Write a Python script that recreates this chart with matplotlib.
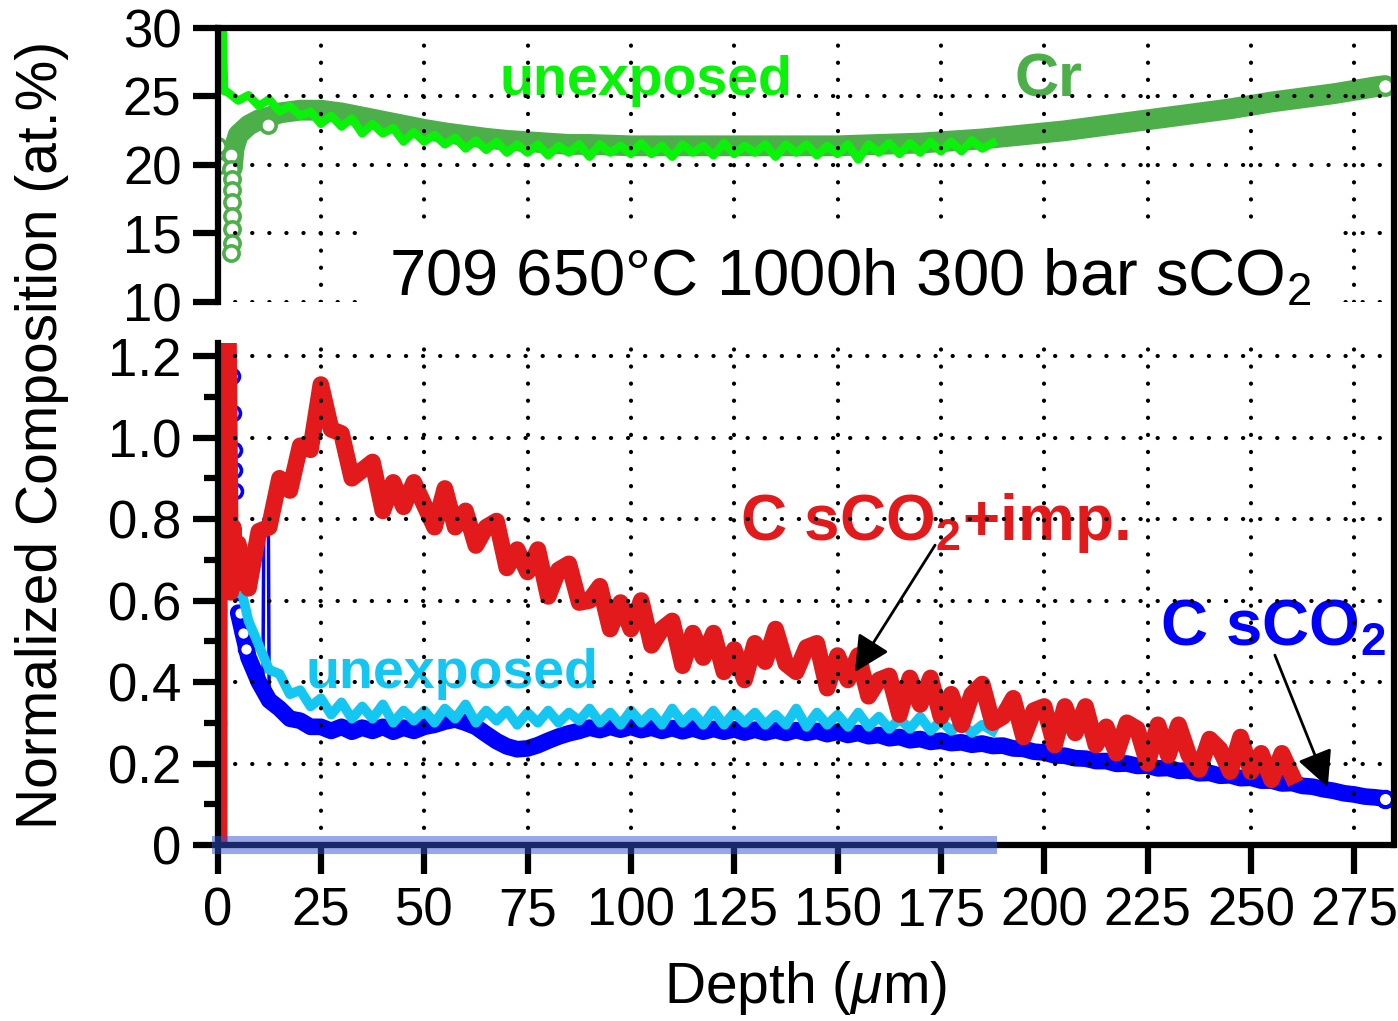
import numpy as np
import matplotlib.pyplot as plt
from matplotlib.lines import Line2D

plt.rcParams['font.family'] = ['Liberation Sans', 'DejaVu Sans']
plt.rcParams['mathtext.fontset'] = 'custom'
plt.rcParams['mathtext.rm'] = 'Liberation Sans'
plt.rcParams['mathtext.it'] = 'Liberation Sans:italic'
plt.rcParams['mathtext.bf'] = 'Liberation Sans:bold'
plt.rcParams['lines.dash_capstyle'] = 'round'

# ---------------- data ----------------
# top panel, Cr at.%
# sCO2 exposed: open rings near the surface, then a thick band
cr_ring_x = [0.1, 0.3, 3.3, 3.3, 3.4, 3.4, 3.5, 3.5, 3.4, 3.4, 3.3, 12.2]
cr_ring_y = [21.4, 20.0, 20.7, 19.7, 19.0, 18.2, 17.3, 16.3, 15.3, 14.3, 13.6, 22.9]
cr_x = [3.6, 4.0, 5.0, 7.5, 10, 12.5, 15, 20, 25, 30, 35, 40, 45, 50, 55, 60, 65, 70,
        75, 80, 85, 90, 95, 100, 110, 120, 130, 140, 150, 160, 170, 180, 185, 190, 195,
        200, 205, 210, 215, 220, 225, 230, 235, 240, 245, 250, 255, 260, 265, 270, 275,
        280, 282.5]
cr_y = [19.8, 21.2, 22.2, 22.9, 23.3, 23.5, 23.8, 24.0, 24.0, 23.8, 23.5, 23.2, 22.9,
        22.6, 22.35, 22.15, 21.95, 21.8, 21.7, 21.6, 21.5, 21.5, 21.45, 21.4, 21.4, 21.4,
        21.4, 21.4, 21.4, 21.5, 21.6, 21.8, 21.9, 22.05, 22.2, 22.35, 22.5, 22.7, 22.9,
        23.1, 23.3, 23.5, 23.7, 23.9, 24.1, 24.35, 24.6, 24.8, 25.0, 25.2, 25.45, 25.7, 25.8]

# unexposed Cr (noisy)
cr_unexp_head_x = [1.2, 1.6]
cr_unexp_head_y = [31.0, 25.4]
cr_unexp_y = [25.3, 24.7, 25.1, 24.3, 24.8, 23.9, 24.3, 23.6, 23.9, 23.0,
              23.6, 22.8, 23.4, 22.3, 23.0, 22.3, 22.7, 21.7, 22.4, 21.7,
              22.2, 21.5, 22.0, 21.2, 21.8, 21.1, 21.7, 20.9, 21.5, 20.9,
              21.5, 20.7, 21.4, 20.9, 21.5, 20.6, 21.5, 20.9, 21.4, 20.8,
              21.6, 20.8, 21.4, 20.6, 21.5, 20.9, 21.4, 20.7, 21.6, 20.8,
              21.4, 20.9, 21.5, 20.6, 21.5, 20.9, 21.5, 20.7, 21.4, 20.8,
              21.5, 20.4, 21.5, 20.9, 21.6, 20.8, 21.6, 20.9, 21.7, 21.0,
              21.7, 21.0, 21.8, 21.2, 21.6]
cr_unexp_x = 2.5 + 2.5 * np.arange(len(cr_unexp_y))

# bottom panel, normalized C
# C sCO2 + impurities
c_imp_head_x = [0.4, 0.5, 2.6, 3.2, 3.8, 4.3]
c_imp_head_y = [0.0, 1.3, 1.3, 0.62, 0.78, 0.64]
c_imp_y = [0.74, 0.63, 0.77, 0.78, 0.90, 0.87, 0.98, 0.97, 1.13, 1.02,
           1.01, 0.90, 0.92, 0.94, 0.82, 0.89, 0.83, 0.89, 0.835, 0.78,
           0.875, 0.78, 0.82, 0.735, 0.78, 0.795, 0.68, 0.725, 0.67, 0.725,
           0.61, 0.675, 0.69, 0.595, 0.60, 0.635, 0.53, 0.595, 0.53, 0.60,
           0.49, 0.53, 0.55, 0.44, 0.52, 0.46, 0.52, 0.425, 0.48, 0.405,
           0.495, 0.45, 0.53, 0.445, 0.425, 0.485, 0.495, 0.385, 0.465, 0.405,
           0.465, 0.365, 0.405, 0.415, 0.32, 0.41, 0.345, 0.41, 0.315, 0.37,
           0.295, 0.37, 0.395, 0.30, 0.315, 0.36, 0.265, 0.33, 0.34, 0.245,
           0.34, 0.275, 0.34, 0.245, 0.29, 0.225, 0.30, 0.285, 0.20, 0.295,
           0.22, 0.295, 0.22, 0.185, 0.26, 0.235, 0.18, 0.265, 0.18, 0.225,
           0.16, 0.225, 0.17]
c_imp_x = 5 + 2.5 * np.arange(len(c_imp_y))

# C sCO2
c_ring_x = [0.2, 0.2, 0.3, 0.5, 3.6, 3.8, 4.0, 4.1, 4.3, 4.6, 5.0, 5.5, 6.2, 7.0]
c_ring_y = [0.30, 0.78, 0.80, 1.03, 1.15, 1.06, 0.97, 0.92, 0.87, 0.70, 0.62, 0.57, 0.52, 0.48]
c_thin_x = [3.0, 3.0, np.nan, 11.0, 11.2, 12.3, 12.5]
c_thin_y = [1.3, 0.62, np.nan, 0.40, 0.80, 0.80, 0.36]
c_y = [0.57, 0.46, 0.40, 0.355, 0.335, 0.31, 0.305, 0.29, 0.29, 0.28,
       0.29, 0.278, 0.288, 0.28, 0.29, 0.278, 0.288, 0.28, 0.29, 0.295,
       0.303, 0.308, 0.30, 0.29, 0.272, 0.255, 0.242, 0.235, 0.237, 0.245,
       0.256, 0.266, 0.274, 0.28, 0.288, 0.282, 0.29, 0.283, 0.29, 0.282,
       0.288, 0.28, 0.287, 0.279, 0.286, 0.278, 0.285, 0.278, 0.284, 0.276,
       0.283, 0.276, 0.282, 0.275, 0.282, 0.275, 0.28, 0.272, 0.278, 0.27,
       0.275, 0.267, 0.27, 0.262, 0.265, 0.257, 0.26, 0.253, 0.256, 0.25,
       0.252, 0.246, 0.249, 0.243, 0.244, 0.237, 0.236, 0.229, 0.227, 0.22,
       0.219, 0.213, 0.212, 0.206, 0.206, 0.199, 0.2, 0.194, 0.195, 0.188,
       0.189, 0.182, 0.183, 0.176, 0.177, 0.17, 0.171, 0.164, 0.165, 0.158,
       0.158, 0.151, 0.152, 0.145, 0.143, 0.137, 0.133, 0.127, 0.124, 0.119,
       0.117, 0.114]
c_x = 5 + 2.5 * np.arange(len(c_y))

# C unexposed
c_unexp_head_x = [3.0, 3.6, 4.2]
c_unexp_head_y = [0.88, 0.78, 0.72]
c_unexp_y = [0.66, 0.55, 0.49, 0.43, 0.42, 0.37, 0.38, 0.34, 0.36, 0.32,
             0.35, 0.31, 0.34, 0.31, 0.345, 0.30, 0.33, 0.305, 0.33, 0.30,
             0.335, 0.31, 0.345, 0.30, 0.33, 0.305, 0.33, 0.295, 0.325, 0.30,
             0.33, 0.30, 0.325, 0.305, 0.335, 0.30, 0.325, 0.295, 0.33, 0.30,
             0.325, 0.295, 0.335, 0.30, 0.325, 0.295, 0.33, 0.295, 0.325, 0.30,
             0.325, 0.295, 0.32, 0.295, 0.335, 0.29, 0.325, 0.295, 0.32, 0.29,
             0.325, 0.29, 0.315, 0.285, 0.31, 0.285, 0.315, 0.28, 0.305, 0.28,
             0.30, 0.275, 0.295, 0.28]
c_unexp_x = 5 + 2.5 * np.arange(len(c_unexp_y))

# zero baseline of the unexposed profile
zero_x = [-1.3, 188.6]
zero_y = [0.0, 0.0]

x_ticks = [0, 25, 50, 75, 100, 125, 150, 175, 200, 225, 250, 275]
top_ticks = [10, 15, 20, 25, 30]
bot_ticks = [0, 0.2, 0.4, 0.6, 0.8, 1.0, 1.2]
bot_labels = ['0', '0.2', '0.4', '0.6', '0.8', '1.0', '1.2']

# colours
dkgreen = '#4daf4a'
ltgreen = '#0af20a'
red = '#e31a1c'
blue = '#0000ff'
cyan = '#14c6f2'

# ---------------- figure ----------------
fig = plt.figure(figsize=(13.98, 10.21), dpi=100)
left, width = 217.5 / 1398, (1393.5 - 217.5) / 1398
ax1 = fig.add_axes([left, 1 - 302 / 1021, width, (302 - 28) / 1021])
ax2 = fig.add_axes([left, 1 - 845 / 1021, width, (845 - 343) / 1021])

# top panel
ax1.plot(cr_x, cr_y, color=dkgreen, lw=15, solid_capstyle='round', zorder=2)
ax1.plot(cr_ring_x, cr_ring_y, ls='none', marker='o', ms=11, mfc='white', mec=dkgreen, mew=2.6, zorder=2)
ax1.plot(cr_x[-1:], cr_y[-1:], ls='none', marker='o', ms=12, mfc='white', mec=dkgreen, mew=3, zorder=2.1)
ax1.plot(np.r_[cr_unexp_head_x, cr_unexp_x], np.r_[cr_unexp_head_y, cr_unexp_y],
         color=ltgreen, lw=6, zorder=2.05)

ax1.text(68.3, 25.1, 'unexposed', color=ltgreen, fontsize=40, fontweight='bold', zorder=2.3)
ax1.text(192.9, 25.0, 'Cr', color=dkgreen, fontsize=44, fontweight='bold', zorder=2.3)
ax1.text(153, 10.45, '709 650°C 1000h 300 bar sCO$_2$', ha='center', va='baseline',
         fontsize=47, zorder=5,
         bbox=dict(boxstyle='square,pad=0.3', fc='white', ec='none'))

ax1.set_xlim(0, 284.5)
ax1.set_ylim(10, 30)
ax1.set_yticks(top_ticks)
ax1.set_xticks(x_ticks)

# bottom panel
ax2.plot(zero_x, zero_y, color='#3050d0', alpha=0.5, lw=13, solid_capstyle='butt',
         clip_on=False, zorder=4)
ax2.plot(c_x, c_y, color=blue, lw=12, solid_capstyle='round', zorder=2)
ax2.plot(c_thin_x, c_thin_y, color=blue, lw=2.5, zorder=2)
ax2.plot(c_ring_x, c_ring_y, ls='none', marker='o', ms=10, mfc='white', mec=blue, mew=2.6, zorder=2)
ax2.plot(c_x[-1:], c_y[-1:], ls='none', marker='o', ms=11, mfc='white', mec=blue, mew=3, zorder=2.1)
ax2.plot(np.r_[c_unexp_head_x, c_unexp_x], np.r_[c_unexp_head_y, c_unexp_y],
         color=cyan, lw=7, zorder=2.05)
ax2.plot(np.r_[c_imp_head_x, c_imp_x], np.r_[c_imp_head_y, c_imp_y],
         color=red, lw=12, solid_joinstyle='round', zorder=2.1)

ax2.text(21.2, 0.385, 'unexposed', color=cyan, fontsize=40, fontweight='bold', zorder=2.3)
ax2.text(126.4, 0.748, r'C sCO$_\mathbf{2}$+imp.', color=red, fontsize=46,
         fontweight='bold', zorder=2.3)
ax2.text(228, 0.49, r'C sCO$_\mathbf{2}$', color=blue, fontsize=47, fontweight='bold', zorder=2.3)

arrow = dict(arrowstyle='-|>,head_length=1.1,head_width=0.55', color='black', lw=2,
             mutation_scale=20, shrinkA=0, shrinkB=0)
ax2.annotate('', xy=(154.2, 0.4245), xytext=(173.6, 0.736), arrowprops=arrow, zorder=4)
ax2.annotate('', xy=(268.6, 0.142), xytext=(255.8, 0.466), arrowprops=arrow, zorder=4)

ax2.set_xlim(0, 284.5)
ax2.set_ylim(0, 1.232)
ax2.set_xticks(x_ticks)
ax2.set_yticks(bot_ticks)
ax2.set_yticklabels(bot_labels)
ax2.set_yticks(np.arange(0.1, 1.2, 0.2), minor=True)
ax2.set_xlabel('Depth ($\\mu$m)', fontsize=41, labelpad=16)

for ax in (ax1, ax2):
    ax.set_axisbelow(False)
    ax.grid(True, which='major', color='black', linestyle=(0, (0.05, 4.05)), linewidth=3)
    ax.tick_params(which='major', direction='out', length=18, width=4.5, labelsize=38, pad=8)
    ax.tick_params(which='minor', direction='out', length=10, width=4.5)
    for s in ax.spines.values():
        s.set_linewidth(4.5)
    ax.spines['right'].set_visible(False)

ax1.tick_params(axis='x', length=0, labelbottom=False)
ax2.tick_params(axis='x', length=21, pad=9)
ax1.spines['bottom'].set_visible(False)
ax2.spines['top'].set_visible(False)

fig.add_artist(Line2D([1393.5 / 1398] * 2, [1 - 28 / 1021, 1 - 845 / 1021],
                      transform=fig.transFigure, color='black', lw=4.5))

fig.text(42 / 1398, 1 - 435 / 1021, 'Normalized Composition (at.%)', rotation=90,
         ha='center', va='center', fontsize=41)

fig.savefig('out.png', dpi=100)
